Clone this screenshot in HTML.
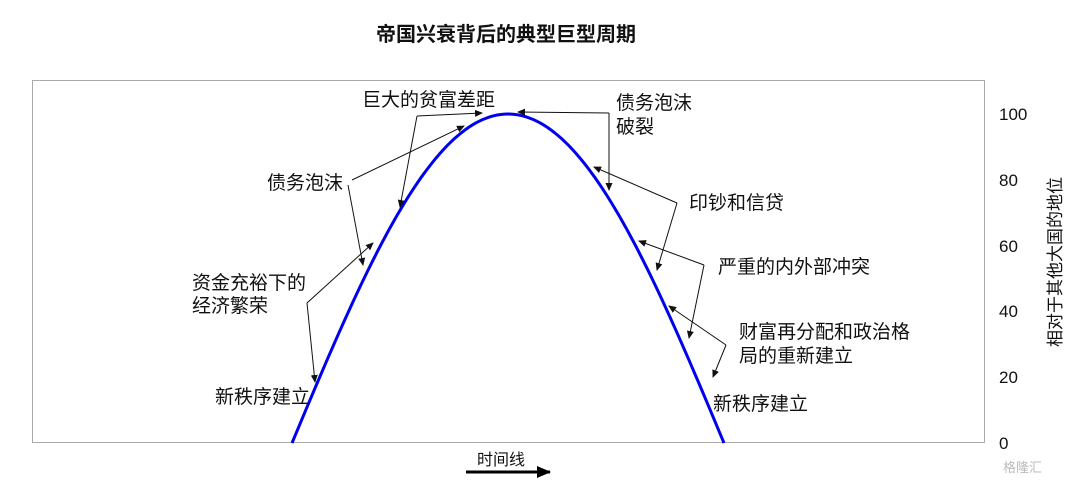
<!DOCTYPE html>
<html><head><meta charset="utf-8">
<style>
body{margin:0;width:1080px;height:485px;background:#fff;overflow:hidden}
svg text{font-family:"Liberation Sans","Noto Sans CJK SC",sans-serif;fill:#111}
</style></head><body>
<svg width="1080" height="485" viewBox="0 0 1080 485">
<defs><marker id="a" markerWidth="8" markerHeight="8" refX="7" refY="4" orient="auto" markerUnits="userSpaceOnUse"><path d="M0,0.5 L8,4 L0,7.5Z" fill="#111"/></marker>
<marker id="b" markerWidth="14" markerHeight="12" refX="13" refY="6" orient="auto" markerUnits="userSpaceOnUse"><path d="M0,0 L14,6 L0,12Z" fill="#000"/></marker></defs>
<text x="506" y="41" font-size="20" font-weight="bold" text-anchor="middle">帝国兴衰背后的典型巨型周期</text>
<rect x="32.5" y="80.5" width="952" height="362" fill="none" stroke="#aaa" stroke-width="1"/>
<g font-size="17" text-anchor="start">
<text x="999" y="120">100</text><text x="999" y="186">80</text><text x="999" y="252">60</text><text x="999" y="317">40</text><text x="999" y="383">20</text><text x="999" y="449">0</text>
</g>
<text transform="translate(1061,262) rotate(-90)" font-size="17" text-anchor="middle">相对于其他大国的地位</text>
<path id="curve" fill="none" stroke="#0000ee" stroke-width="3"/>
<g stroke="#111" stroke-width="1" fill="none">
<path d="M417,116 L482,113" marker-end="url(#a)"/><path d="M417,116 L400,207" marker-end="url(#a)"/>
<path d="M352,180 L464,126" marker-end="url(#a)"/><path d="M348,185 L363,265" marker-end="url(#a)"/>
<path d="M307,303 L373,243" marker-end="url(#a)"/><path d="M307,303 L315,382" marker-end="url(#a)"/>
<path d="M609,113 L518,112" marker-end="url(#a)"/><path d="M609,113 L609,190" marker-end="url(#a)"/>
<path d="M677,203 L594,167" marker-end="url(#a)"/><path d="M677,203 L657,270" marker-end="url(#a)"/>
<path d="M704,265 L639,241" marker-end="url(#a)"/><path d="M704,265 L689,338" marker-end="url(#a)"/>
<path d="M726,345 L669,306" marker-end="url(#a)"/><path d="M726,345 L713,377" marker-end="url(#a)"/>
</g>
<g font-size="19">
<text x="362" y="106">巨大的贫富差距</text>
<text x="267" y="189">债务泡沫</text>
<text x="192" y="289">资金充裕下的</text><text x="192" y="312">经济繁荣</text>
<text x="215" y="403">新秩序建立</text>
<text x="616" y="109">债务泡沫</text><text x="616" y="133">破裂</text>
<text x="689" y="209">印钞和信贷</text>
<text x="718" y="273">严重的内外部冲突</text>
<text x="739" y="338">财富再分配和政治格</text><text x="739" y="362">局的重新建立</text>
<text x="713" y="410">新秩序建立</text>
</g>
<text x="477" y="465" font-size="16">时间线</text>
<line x1="466" y1="472" x2="550" y2="472" stroke="#000" stroke-width="3" marker-end="url(#b)"/>
<text x="1003" y="472" font-size="13" style="fill:#bbb">格隆汇</text>
</svg>
<script>
var d="";for(var i=0;i<=120;i++){var x=292+432*i/120;var y=443-329*Math.sin(Math.PI*i/120);d+=(i?"L":"M")+x.toFixed(1)+","+y.toFixed(1);}
document.getElementById("curve").setAttribute("d",d);
</script>
</body></html>
